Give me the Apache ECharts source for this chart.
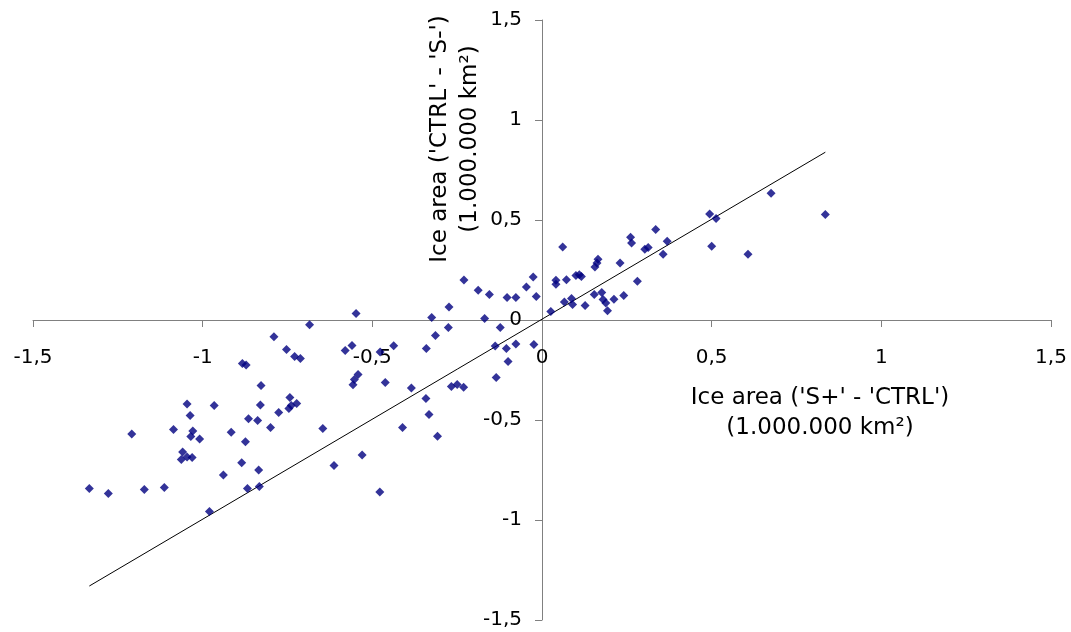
<!DOCTYPE html>
<html>
<head>
<meta charset="utf-8">
<script src="https://cdn.jsdelivr.net/npm/echarts@6/dist/echarts.min.js"></script>
<style>
html,body{margin:0;padding:0;background:#fff;}
#chart{width:1071px;height:632px;}
</style>
</head>
<body>
<div id="chart"></div>
<script>
// Ice area difference ('S+' - 'CTRL'), 10^6 km²
var iceSplusMinusCtrl = [
 -0.685,-0.790,-0.753,-0.729,-0.712,-0.883,-0.872,-0.828,-1.046,-0.966,
 -0.830,-0.743,-0.723,-0.739,-0.746,-1.037,-0.865,-0.838,-0.776,-1.209,
 -1.086,-1.029,-1.035,-1.009,-0.916,-0.800,-0.874,-1.059,-1.063,-1.046,
 -1.031,-0.885,-0.835,-0.939,-1.334,-1.278,-1.172,-1.113,-0.868,-0.833,
 -0.980,-0.548,-0.325,-0.274,-0.276,-0.314,-0.341,-0.580,-0.560,-0.477,
 -0.437,-0.542,-0.553,-0.557,-0.462,-0.385,-0.342,-0.333,-0.411,-0.308,
 -0.267,-0.250,-0.231,-0.646,-0.613,-0.530,-0.478,-0.135, 0.061,-0.230,
 -0.188,-0.155,-0.103,-0.077,-0.046,-0.026,-0.017,-0.169,-0.123,-0.138,
 -0.105,-0.077,-0.024,-0.100, 0.041, 0.041, 0.072, 0.100, 0.110, 0.116,
  0.066, 0.087, 0.090, 0.026, 0.675, 0.835, 0.494, 0.513, 0.500, 0.607,
  0.335, 0.261, 0.264, 0.369, 0.303, 0.313, 0.357, 0.165, 0.162, 0.156,
  0.230, 0.281, 0.127, 0.154, 0.176, 0.180, 0.188, 0.193, 0.212, 0.241
];
// Ice area difference ('CTRL' - 'S-'), 10^6 km²
var iceCtrlMinusSminus = [
 -0.024,-0.084,-0.148,-0.182,-0.192,-0.217,-0.225,-0.328,-0.420,-0.428,
 -0.425,-0.388,-0.418,-0.428,-0.442,-0.477,-0.494,-0.502,-0.463,-0.570,
 -0.547,-0.555,-0.582,-0.595,-0.561,-0.538,-0.609,-0.660,-0.697,-0.685,
 -0.687,-0.714,-0.750,-0.775,-0.842,-0.868,-0.847,-0.837,-0.842,-0.833,
 -0.957, 0.033, 0.012, 0.065,-0.038,-0.077,-0.143,-0.152,-0.128,-0.160,
 -0.129,-0.273,-0.298,-0.324,-0.313,-0.340,-0.393,-0.472,-0.538,-0.581,
 -0.332,-0.323,-0.336,-0.543,-0.728,-0.675,-0.860,-0.287, 0.365, 0.200,
  0.149, 0.127, 0.112, 0.112, 0.165, 0.215, 0.117, 0.007,-0.038,-0.130,
 -0.143,-0.120,-0.122,-0.208, 0.199, 0.179, 0.201, 0.222, 0.226, 0.217,
  0.090, 0.107, 0.078, 0.043, 0.634, 0.527, 0.530, 0.507, 0.369, 0.329,
  0.452, 0.414, 0.385, 0.394, 0.354, 0.362, 0.329, 0.304, 0.285, 0.265,
  0.285, 0.194, 0.073, 0.127, 0.137, 0.102, 0.085, 0.046, 0.104, 0.122
];
// Trend line end points
var trendX = [-1.334, 0.835];
var trendY = [-1.330, 0.839];
// Axis ticks
var axisMin = -1.5, axisMax = 1.5, axisStep = 0.5;
var xTitle = "Ice area ('S+' - 'CTRL')\n(1.000.000 km²)";
var yTitle = "Ice area ('CTRL' - 'S-')\n(1.000.000 km²)";

var points = iceSplusMinusCtrl.map(function (x, i) { return [x, iceCtrlMinusSminus[i]]; });
var trend = trendX.map(function (x, i) { return [x, trendY[i]]; });

function fmt(v) { return String(Math.round(v * 10) / 10).replace('.', ','); }

function makeAxis(labelMargin, pos) {
  return {
    type: 'value', position: pos, offset: 0,
    min: axisMin, max: axisMax, interval: axisStep,
    splitLine: { show: false },
    axisLine: { onZero: false, lineStyle: { color: '#808080', width: 1 } },
    axisTick: { show: true, length: 7, lineStyle: { color: '#808080' } },
    axisLabel: {
      formatter: fmt, color: '#000', fontFamily: 'DejaVu Sans', fontSize: 20,
      margin: labelMargin, showMinLabel: true, showMaxLabel: true, hideOverlap: false
    }
  };
}

var chart = echarts.init(document.getElementById('chart'), null, { renderer: 'canvas' });
chart.setOption({
  animation: false,
  backgroundColor: '#ffffff',
  grid: { left: 33, right: 20, top: 20, bottom: 12, containLabel: false, outerBoundsMode: 'none' },
  xAxis: makeAxis(28, 'bottom'),
  yAxis: makeAxis(20, 'left'),
  series: [
    {
      type: 'scatter', data: points, symbol: 'diamond', symbolSize: 9,
      itemStyle: { color: '#000080' }, z: 3
    },
    {
      type: 'line', data: trend, symbol: 'none', lineStyle: { color: '#000', width: 1 }, z: 2
    }
  ],
  graphic: [
    {
      type: 'text', x: 820, y: 413,
      style: { text: xTitle, font: '23px "DejaVu Sans"', fill: '#000', align: 'center', verticalAlign: 'middle', lineHeight: 30 }
    },
    {
      type: 'text', x: 455, y: 139, rotation: Math.PI / 2,
      style: { text: yTitle, font: '23px "DejaVu Sans"', fill: '#000', align: 'center', verticalAlign: 'middle', lineHeight: 30 }
    }
  ]
});

// Move both axes (line, ticks, labels) onto the zero crossing
var origin = chart.convertToPixel({ gridIndex: 0 }, [0, 0]);
var corner = chart.convertToPixel({ gridIndex: 0 }, [axisMin, axisMin]);
chart.setOption({
  xAxis: { offset: -(corner[1] - origin[1]) },
  yAxis: { offset: -(origin[0] - corner[0]) }
});
</script>
</body>
</html>
